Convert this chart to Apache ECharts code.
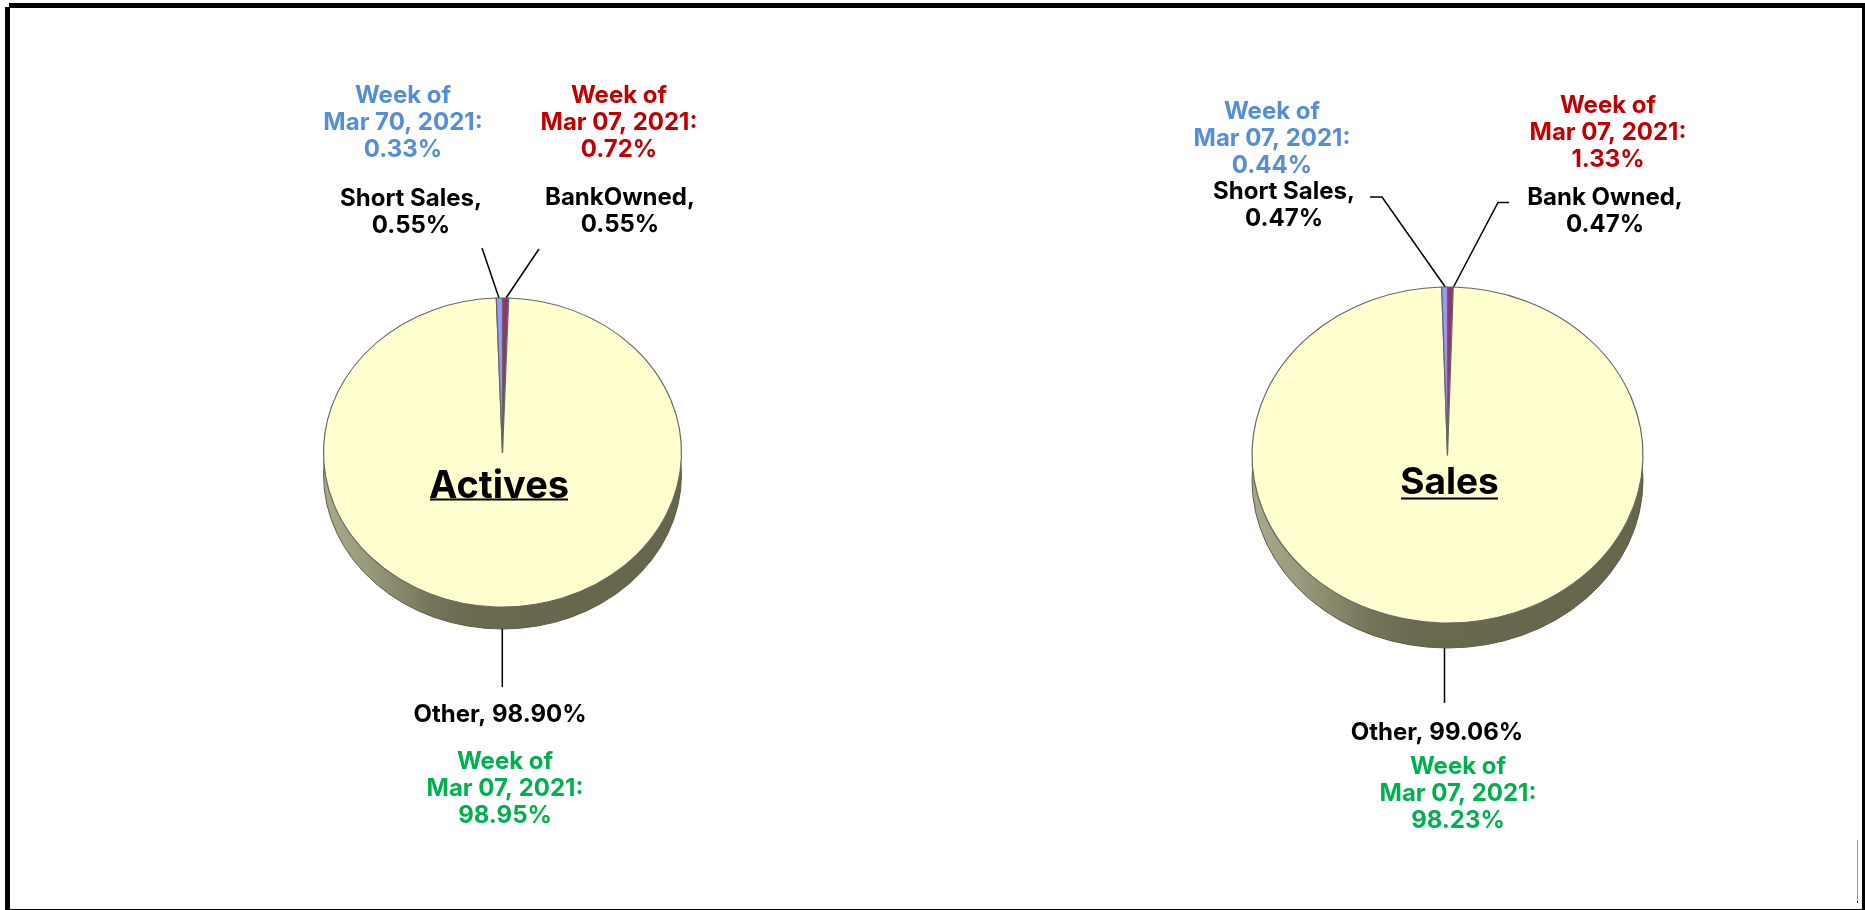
<!DOCTYPE html>
<html><head><meta charset="utf-8">
<style>html,body{margin:0;padding:0;background:#fff}#c{width:1865px;height:910px}</style>
<script src="https://cdn.jsdelivr.net/npm/echarts@6/dist/echarts.min.js"></script>
</head><body><div id="c"></div>
<script>
// ---- data ----
const activesCategories = ['BankOwned', 'Other', 'Short Sales'];
const activesValues = [0.55, 98.90, 0.55];
const salesCategories = ['Bank Owned', 'Other', 'Short Sales'];
const salesValues = [0.47, 99.06, 0.47];
const activesPriorLabels = ['Mar 07, 2021', 'Mar 07, 2021', 'Mar 70, 2021'];
const activesPriorValues = [0.72, 98.95, 0.33];
const salesPriorLabels = ['Mar 07, 2021', 'Mar 07, 2021', 'Mar 07, 2021'];
const salesPriorValues = [1.33, 98.23, 0.44];
const sliceColors = ['#993366', '#FFFFD0', '#9999FF'];
const priorColors = ['#C00000', '#00B050', '#558ED5'];
const pieTitles = ['Actives', 'Sales'];

// ---- layout (not data) ----
const FONT = 'Inter';
const P = [
  { cx: 502.5, cy: 452.5, rx: 179, ry: 154.5, depth: 22,
    title: { x: 499, y: 499, size: 38, ux0: 430, ux1: 568, uy: 499.5 },
    prior: [[619, 157], [505, 823], [403, 157]],
    labels: [[620, 232], [500, 722], [411, 233]],
    lines: [
      [[539, 249], [539, 249], [506, 298]],
      [[502.3, 629], [502.3, 687], [502.3, 687]],
      [[482, 248], [482, 248], [499, 298]]
    ] },
  { cx: 1447.5, cy: 455, rx: 195.5, ry: 168, depth: 25,
    title: { x: 1449.5, y: 495, size: 37, ux0: 1401, ux1: 1498, uy: 498.5 },
    prior: [[1608, 167], [1458, 828], [1272, 173]],
    labels: [[1605, 232], [1437, 740], [1284, 226]],
    lines: [
      [[1509, 202.5], [1498, 202.5], [1453, 288]],
      [[1444.5, 648], [1444.5, 703], [1444.5, 703]],
      [[1370, 197], [1382, 197], [1446, 288]]
    ] }
];
const BLACK_LINE_H = 26.7, TEXT_SIZE = 24;

function labelText(name, v) {
  return name === 'Other' ? name + ', ' + v.toFixed(2) + '%' : name + ',\n' + v.toFixed(2) + '%';
}
function rimGradient() {
  return { type: 'linear', x: 0, y: 0, x2: 1, y2: 0, colorStops: [
    { offset: 0, color: '#a9a98c' }, { offset: 0.12, color: '#9a9a7c' },
    { offset: 0.3, color: '#75755a' }, { offset: 0.42, color: '#69694f' }, { offset: 1, color: '#66664c' } ] };
}
function toData(names, values, colors) {
  return names.map((n, i) => ({ name: n, value: values[i], itemStyle: colors ? { color: colors[i] } : undefined }));
}
function pieSeries(p, names, values) {
  return {
    type: 'pie', name: 'top', center: [p.cx, p.cy], radius: [0, p.rx], startAngle: 90, clockwise: true,
    percentPrecision: 2, avoidLabelOverlap: false, z: 3,
    data: toData(names, values, sliceColors),
    itemStyle: { borderColor: '#666666', borderWidth: 1.2 },
    label: { show: true, color: '#000', fontFamily: FONT, fontWeight: 700, fontSize: TEXT_SIZE, lineHeight: BLACK_LINE_H,
      align: 'center', verticalAlign: 'bottom',
      formatter: q => labelText(q.name, q.value) },
    labelLine: { show: true, lineStyle: { color: '#000', width: 1.5 } },
    labelLayout: q => ({ x: p.labels[q.dataIndex][0], y: p.labels[q.dataIndex][1] + 6, align: 'center', verticalAlign: 'bottom',
      labelLinePoints: p.lines[q.dataIndex] }),
    silent: true
  };
}
function rimSeries(p, names, values) {
  return {
    type: 'pie', name: 'rim', center: [p.cx, p.cy + p.depth], radius: [0, p.rx], startAngle: 90, z: 1, silent: true,
    label: { show: false }, labelLine: { show: false },
    data: [{ name: 'rim', value: values.reduce((a, b) => a + b, 0) }],
    itemStyle: { color: rimGradient(), borderColor: '#55553f', borderWidth: 1 }
  };
}
function priorTitles(p, labels, values) {
  return labels.map((l, i) => ({
    text: 'Week of\n' + l + ':\n' + values[i].toFixed(2) + '%',
    left: p.prior[i][0], top: p.prior[i][1] - 3 * BLACK_LINE_H + 6, textAlign: 'center', padding: 0,
    textStyle: { color: priorColors[i], fontFamily: FONT, fontWeight: 700, fontSize: TEXT_SIZE, lineHeight: BLACK_LINE_H }
  }));
}
const option = {
  animation: false, backgroundColor: '#fff',
  title: [
    ...priorTitles(P[0], activesPriorLabels, activesPriorValues),
    ...priorTitles(P[1], salesPriorLabels, salesPriorValues),
    ...pieTitles.map((t, i) => ({ text: t, left: P[i].title.x, top: P[i].title.y - 33, textAlign: 'center', padding: 0, z: 10,
      textStyle: { color: '#000', fontFamily: FONT, fontWeight: 700, fontSize: P[i].title.size, lineHeight: 42 } }))
  ],
  series: [
    rimSeries(P[0], activesCategories, activesValues), pieSeries(P[0], activesCategories, activesValues),
    rimSeries(P[1], salesCategories, salesValues), pieSeries(P[1], salesCategories, salesValues)
  ],
  graphic: [
    { type: 'rect', shape: { x: 5, y: 7, width: 5, height: 903 }, style: { fill: '#000' }, silent: true },
    { type: 'rect', shape: { x: 9, y: 3, width: 1856, height: 5 }, style: { fill: '#000' }, silent: true },
    { type: 'rect', shape: { x: 1862, y: 3, width: 3, height: 907 }, style: { fill: '#000' }, silent: true },
    { type: 'rect', shape: { x: 5, y: 909, width: 1860, height: 1 }, style: { fill: '#000' }, silent: true },
    { type: 'rect', shape: { x: 1857, y: 840, width: 1, height: 62 }, style: { fill: '#999' }, silent: true },
    { type: 'rect', shape: { x: 1857, y: 901, width: 1, height: 2 }, style: { fill: '#000' }, silent: true },
    ...P.map(p => ({ type: 'rect', shape: { x: p.title.ux0, y: p.title.uy - 1, width: p.title.ux1 - p.title.ux0, height: 2 }, style: { fill: '#000' }, z: 20, silent: true }))
  ]
};
const chart = echarts.init(document.getElementById('c'), null, { renderer: 'canvas', width: 1865, height: 910 });
chart.setOption(option);
// ECharts pies are circular: flatten each sector vertically about the pie centre to get the tilted look
function flatten() {
  const zr = chart.getZr();
  zr.storage.getDisplayList(true).forEach(el => {
    if (el.type !== 'sector' || !el.shape) return;
    const p = P.find(q => Math.abs(q.cx - el.shape.cx) < 1);
    if (!p) return;
    el.attr({ originX: el.shape.cx, originY: el.shape.cy, scaleY: p.ry / p.rx });
  });
  zr.refresh();
}
flatten();
chart.on('finished', flatten);
</script></body></html>
